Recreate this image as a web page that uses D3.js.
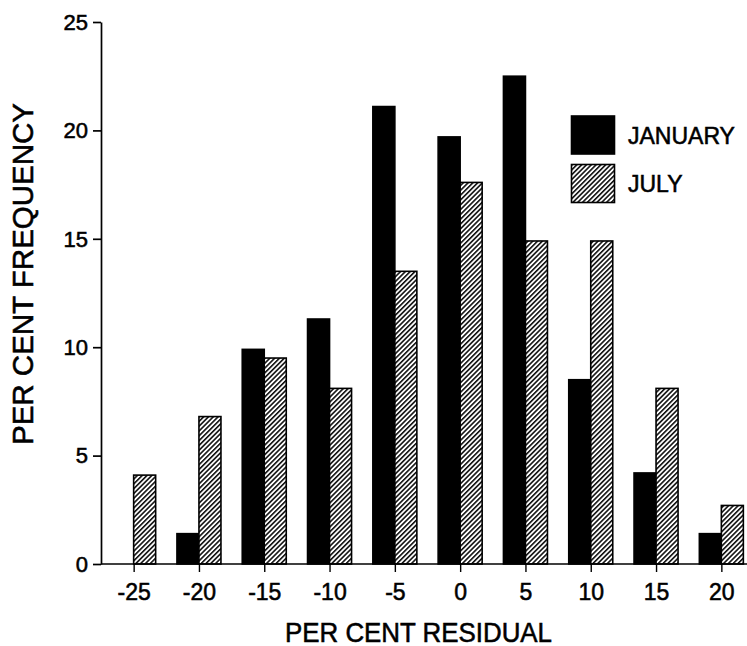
<!DOCTYPE html>
<html>
<head>
<meta charset="utf-8">
<script src="https://cdn.jsdelivr.net/npm/d3@7"></script>
<style>
  html, body { margin: 0; padding: 0; background: #fff; }
  svg { display: block; }
  text { font-family: "Liberation Sans", Arial, Helvetica, sans-serif; fill: #000; stroke: #000; stroke-width: 0.55px; }
</style>
</head>
<body>
<svg id="chart" width="747" height="646"></svg>
<script>
// ---- data ----
const categories = ["-25", "-20", "-15", "-10", "-5", "0", "5", "10", "15", "20"];
const january = [0, 1.4, 9.9, 11.3, 21.1, 19.7, 22.5, 8.5, 4.2, 1.4];
const july = [4.1, 6.8, 9.5, 8.1, 13.5, 17.6, 14.9, 14.9, 8.1, 2.7];
const seriesNames = ["JANUARY", "JULY"];
const yTicks = [0, 5, 10, 15, 20, 25];
const xTitle = "PER CENT RESIDUAL";
const yTitle = "PER CENT FREQUENCY";

const W = 747, H = 646;
const svg = d3.select("#chart");

// hatch pattern
const defs = svg.append("defs");
const pat = defs.append("pattern")
  .attr("id", "hatch")
  .attr("patternUnits", "userSpaceOnUse")
  .attr("width", 3.4).attr("height", 3.4)
  .attr("patternTransform", "rotate(45)");
pat.append("rect").attr("width", 3.4).attr("height", 3.4).attr("fill", "#fff");
pat.append("line").attr("x1", 0.8).attr("y1", 0).attr("x2", 0.8).attr("y2", 3.4)
  .attr("stroke", "#000").attr("stroke-width", 1.5);

const x = d3.scaleBand().domain(categories).range([101, 754])
  .paddingInner(0.326).paddingOuter(0.163);
const xs = d3.scaleBand().domain(seriesNames).range([0, x.bandwidth()]);
const y = d3.scaleLinear().domain([0, 25]).range([564, 22]);

const rows = categories.map((c, i) => ({ c, v: [january[i], july[i]] }));

const g = svg.append("g");
const groups = g.selectAll("g.grp").data(rows).join("g")
  .attr("transform", d => `translate(${x(d.c)},0)`);
groups.selectAll("rect").data(d => d.v.map((v, k) => ({ v, k })).filter(o => o.v > 0)).join("rect")
  .attr("x", o => xs(seriesNames[o.k]))
  .attr("y", o => y(o.v))
  .attr("width", xs.bandwidth())
  .attr("height", o => y(0) - y(o.v))
  .attr("fill", o => o.k === 0 ? "#000" : "url(#hatch)")
  .attr("stroke", "#000")
  .attr("stroke-width", 1.6);

// axes
const yAxis = d3.axisLeft(y).tickValues(yTicks).tickSize(8).tickSizeOuter(0).tickPadding(5);
const ya = svg.append("g").attr("transform", "translate(101,0)").call(yAxis);
ya.selectAll("text").attr("font-size", 22).attr("dy", "0.33em");
ya.selectAll("line, path").attr("stroke", "#000").attr("stroke-width", 1.7);

const xCenters = d3.scalePoint().domain(categories)
  .range([x(categories[0]) + x.bandwidth() / 2, x(categories[categories.length - 1]) + x.bandwidth() / 2]);
const xAxis = d3.axisBottom(xCenters).tickSize(8).tickSizeOuter(0).tickPadding(12);
const xa = svg.append("g").attr("transform", "translate(0,564)").call(xAxis);
xa.select(".domain").remove();
xa.selectAll("text").attr("font-size", 23).attr("dy", "0.71em");
xa.selectAll("line").attr("stroke", "#000").attr("stroke-width", 1.4);
svg.append("line").attr("x1", 101).attr("x2", W).attr("y1", 564).attr("y2", 564)
  .attr("stroke", "#000").attr("stroke-width", 1.7);

// titles
svg.append("text").attr("x", 418.5).attr("y", 641.5).attr("text-anchor", "middle")
  .attr("font-size", 27).attr("textLength", 267).attr("lengthAdjust", "spacingAndGlyphs")
  .text(xTitle);
svg.append("text").attr("transform", "translate(33,274) rotate(-90)").attr("text-anchor", "middle")
  .attr("font-size", 29).attr("textLength", 342).attr("lengthAdjust", "spacingAndGlyphs")
  .text(yTitle);

// legend
const leg = svg.append("g");
const legY = [116, 164.5];
seriesNames.forEach((s, k) => {
  leg.append("rect").attr("x", 571.5).attr("y", legY[k]).attr("width", 43).attr("height", 38)
    .attr("fill", k === 0 ? "#000" : "url(#hatch)").attr("stroke", "#000").attr("stroke-width", 1.6);
  leg.append("text").attr("x", 628).attr("y", legY[k] + 27.5).attr("font-size", 23)
    .text(s);
});
</script>
</body>
</html>
